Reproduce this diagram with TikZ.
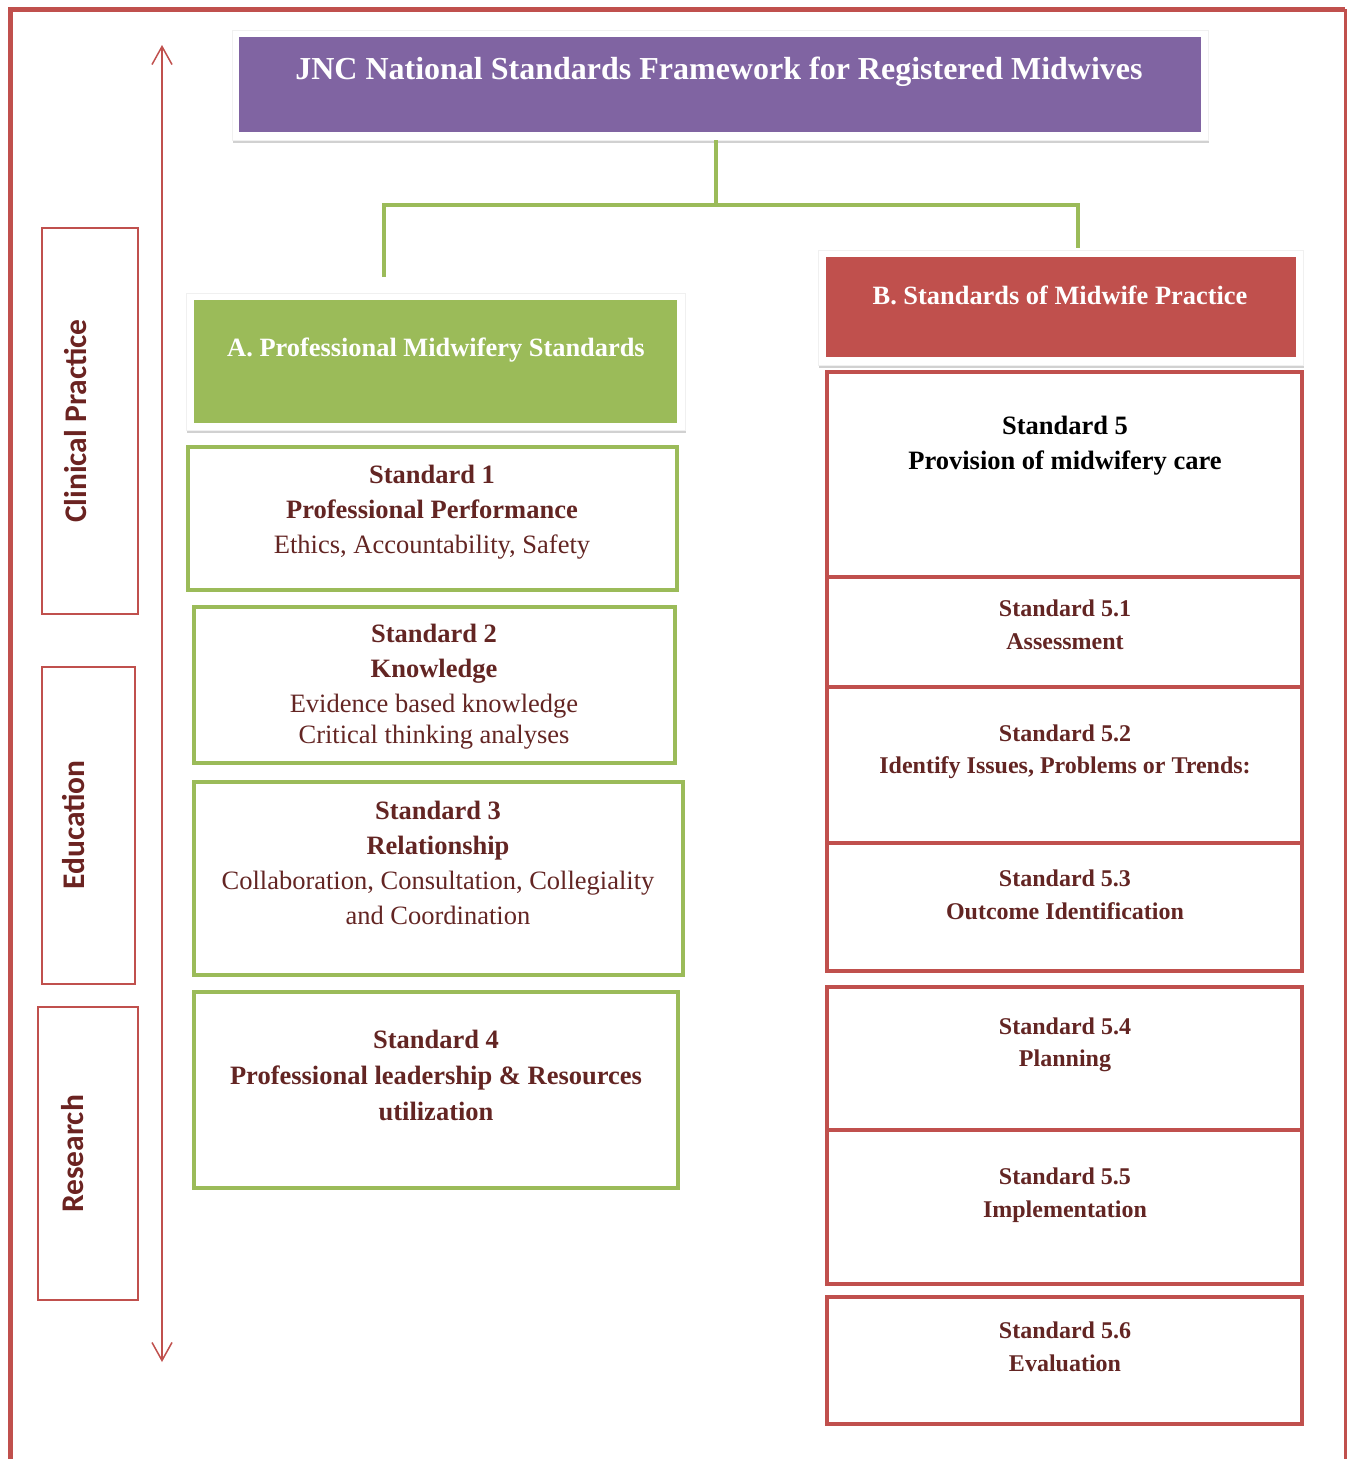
\documentclass[tikz,border=0pt]{standalone}
\usepackage{fontspec}
\setmainfont{Liberation Serif}
\newfontfamily\labelfont{Carlito}
\usetikzlibrary{arrows.meta, positioning, shadows}
\definecolor{jncpurple}{HTML}{8064A2}
\definecolor{jncgreen}{HTML}{9BBB59}
\definecolor{jncred}{HTML}{C0504D}
\definecolor{jncmaroon}{HTML}{632523}
\definecolor{jnclabel}{HTML}{6B2321}

\tikzset{
  headframe/.style={fill=white, draw=black!6, line width=0.6pt, inner sep=0pt,
    drop shadow={shadow xshift=0.5pt, shadow yshift=-3pt, opacity=0.3, fill=black!60}},
  headfill/.style={inner sep=0pt, draw=none},
  headtext/.style={text=white, inner sep=0pt, font=\bfseries\fontsize{26.4}{32}\selectfont},
  stdgreen/.style={draw=jncgreen, line width=4pt, inner sep=0pt},
  stdred/.style={draw=jncred, line width=4pt, inner sep=0pt},
  stdtext/.style={text=jncmaroon, align=center, inner sep=0pt, font=\fontsize{26.5}{35}\selectfont},
  subtext/.style={text=jncmaroon, align=center, inner sep=0pt, font=\bfseries\fontsize{24}{32.5}\selectfont},
  sidebox/.style={draw=jncred, line width=2pt, inner sep=0pt},
  sidetext/.style={text=jnclabel, rotate=90, inner sep=0pt, font=\labelfont\bfseries\fontsize{31.5}{32}\selectfont},
  link/.style={draw=jncgreen, line width=4pt}
}

\begin{document}
\begin{tikzpicture}[x=1pt, y=-1pt]
  \useasboundingbox (0,0) rectangle (1354,1459);

  % outer frame
  \draw[jncred, line width=5pt] (10,1459) -- (10,9) -- (1345,9);
  \draw[jncred, line width=3pt] (1345,9) -- (1345,1459);

  % title
  \node[headframe, minimum width=976pt, minimum height=110pt] (title) at (720,85) {};
  \node[headfill, fill=jncpurple, minimum width=962pt, minimum height=95pt] (titlefill) at (720,84.5) {};
  \node[headtext, font=\bfseries\fontsize{32}{36}\selectfont] (titletext) at (719,72) {JNC National Standards Framework for Registered Midwives};

  % headers A and B
  \node[headframe, minimum width=499pt, minimum height=137pt] (aHead) at (435.5,361.5) {};
  \node[headfill, fill=jncgreen, minimum width=483pt, minimum height=123pt] (aFill) at (435.5,361.5) {};
  \node[headtext] (aText) at (436,350) {A. Professional Midwifery Standards};

  \node[headframe, minimum width=485pt, minimum height=115pt] (bHead) at (1060.5,307.5) {};
  \node[headfill, fill=jncred, minimum width=470pt, minimum height=100pt] (bFill) at (1061,307) {};
  \node[headtext] (bText) at (1060,295) {B. Standards of Midwife Practice};

  % connectors
  \coordinate (fork) at (716,205);
  \coordinate (aTop) at (384,277);
  \coordinate (bTop) at (1078,248);
  \draw[link] (fork |- title.south) -- (fork);
  \draw[link] (aTop) |- (fork) -| (bTop);

  % left column
  \node[stdgreen, minimum width=489pt, minimum height=143pt] (s1) at (432.5,518.5) {};
  \node[stdgreen, minimum width=481pt, minimum height=156pt] (s2) at (434.5,685) {};
  \node[stdgreen, minimum width=489pt, minimum height=193pt] (s3) at (438.5,878.5) {};
  \node[stdgreen, minimum width=484pt, minimum height=196pt] (s4) at (436,1090) {};

  \node[stdtext] (s1txt) at (432,512) {\textbf{Standard 1}\\ \textbf{Professional Performance}\\ Ethics, Accountability, Safety};
  \node[stdtext] (s2txt) at (434,687) {\textbf{Standard 2}\\ \textbf{Knowledge}\\ Evidence based knowledge\\[-4pt] Critical thinking analyses};
  \node[stdtext] (s3txt) at (438,863) {\textbf{Standard 3}\\ \textbf{Relationship}\\ Collaboration, Consultation, Collegiality\\ and Coordination};
  \node[stdtext, font=\bfseries\fontsize{26.5}{36}\selectfont] (s4txt) at (436,1075) {Standard 4\\ Professional leadership \& Resources\\ utilization};

  % right column
  \node[stdred, minimum width=475pt, minimum height=205pt] (s5) at (1064.5,474.5) {};
  \node[stdred, minimum width=475pt, minimum height=110pt] (s51) at (1064.5,632) {};
  \node[stdred, minimum width=475pt, minimum height=156pt] (s52) at (1064.5,765) {};
  \node[stdred, minimum width=475pt, minimum height=128pt] (s53) at (1064.5,907) {};
  \node[stdred, minimum width=475pt, minimum height=143pt] (s54) at (1064.5,1058.5) {};
  \node[stdred, minimum width=475pt, minimum height=154pt] (s55) at (1064.5,1207) {};
  \node[stdred, minimum width=475pt, minimum height=127pt] (s56) at (1064.5,1360.5) {};

  \node[stdtext, text=black, font=\bfseries\fontsize{26.5}{35}\selectfont] (s5txt) at (1065,446) {Standard 5\\ Provision of midwifery care};
  \node[subtext] (s51txt) at (1065,625) {Standard 5.1\\ Assessment};
  \node[subtext] (s52txt) at (1065,752) {Standard 5.2\\ Identify Issues, Problems or Trends:};
  \node[subtext] (s53txt) at (1065,895) {Standard 5.3\\ Outcome Identification};
  \node[subtext] (s54txt) at (1065,1045) {Standard 5.4\\ Planning};
  \node[subtext] (s55txt) at (1065,1195) {Standard 5.5\\ Implementation};
  \node[subtext] (s56txt) at (1065,1347) {Standard 5.6\\ Evaluation};

  % side labels
  \node[sidebox, minimum width=96pt, minimum height=386pt] (clinical) at (90,421) {};
  \node[sidebox, minimum width=93pt, minimum height=317pt] (education) at (88.5,825.5) {};
  \node[sidebox, minimum width=100pt, minimum height=293pt] (research) at (88,1153.5) {};
  \node[sidetext] (clinicaltxt) at (76,421) {Clinical Practice};
  \node[sidetext] (educationtxt) at (74,825) {Education};
  \node[sidetext] (researchtxt) at (73,1154) {Research};

  % span arrow
  \coordinate (spanTop) at (162,45);
  \coordinate (spanBot) at (162,1362);
  \draw[jncred, line width=1.5pt, {Straight Barb[length=18pt,width=20pt]}-{Straight Barb[length=18pt,width=20pt]}] (spanTop) -- (spanBot);
\end{tikzpicture}
\end{document}
